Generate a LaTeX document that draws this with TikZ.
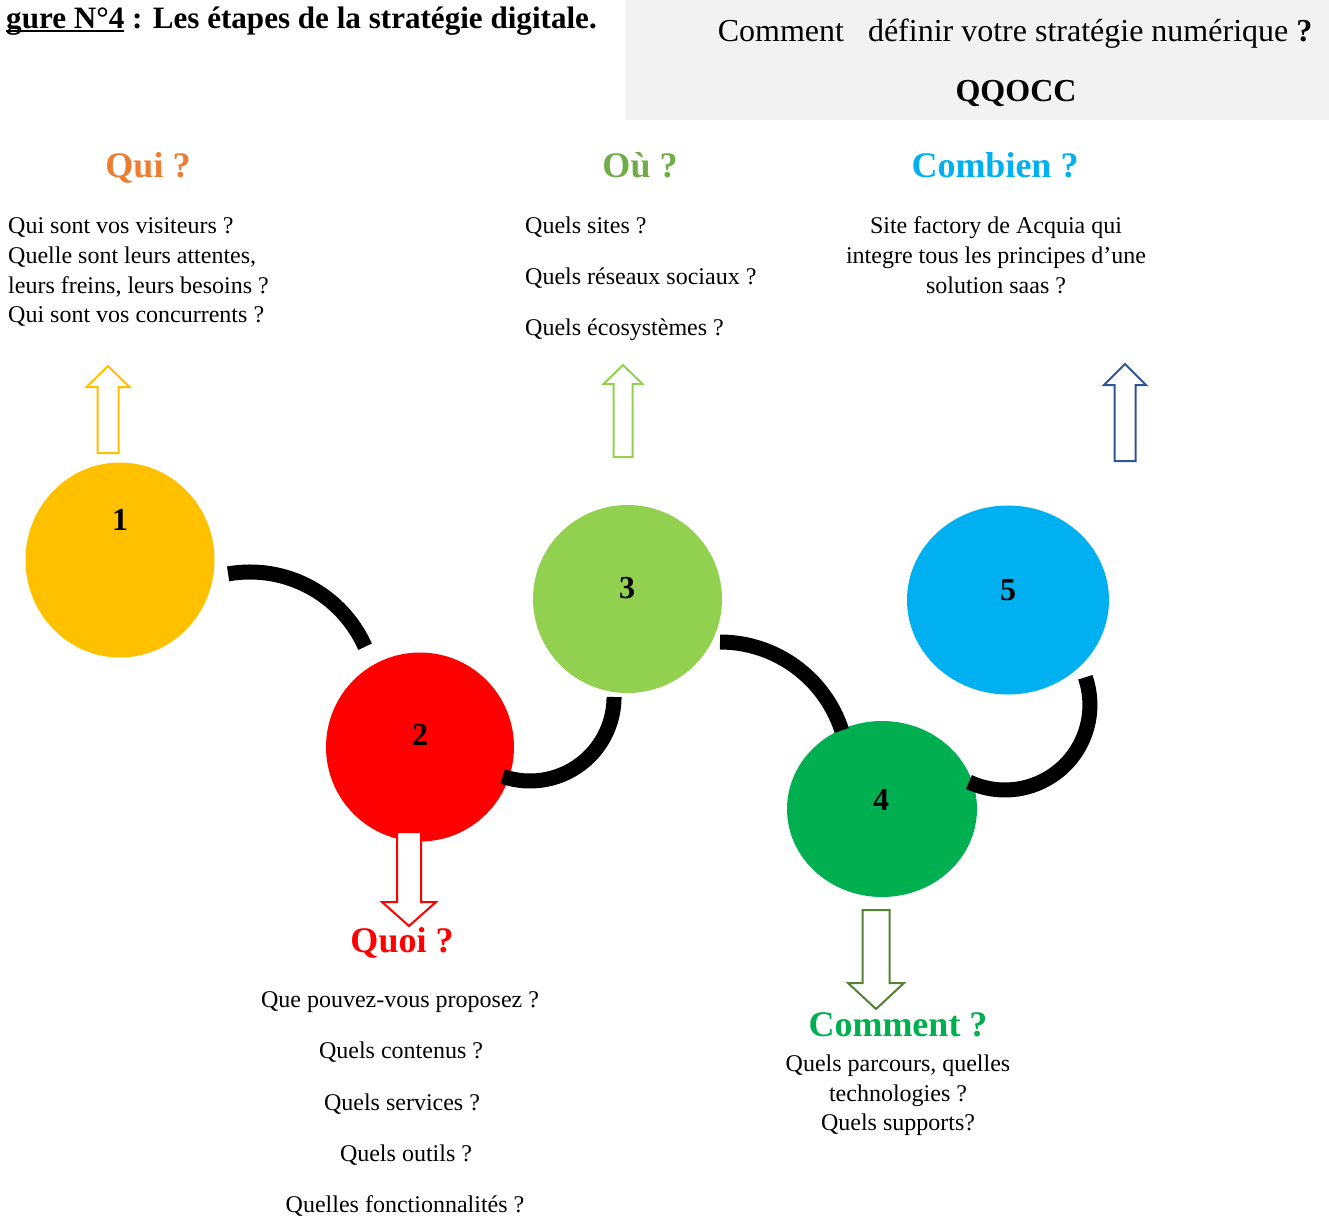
\documentclass[tikz,border=0pt]{standalone}
\usepackage{fontspec}
\setmainfont{Liberation Serif}
\usetikzlibrary{shapes.geometric,calc}

\definecolor{cYellow}{HTML}{FFC000}
\definecolor{cRed}{HTML}{FF0000}
\definecolor{cLime}{HTML}{92D050}
\definecolor{cGreen}{HTML}{00B050}
\definecolor{cCyan}{HTML}{00B0F0}
\definecolor{cOrange}{HTML}{ED7D31}
\definecolor{cOlive}{HTML}{70AD47}
\definecolor{cNavy}{HTML}{2F5597}
\definecolor{cForest}{HTML}{548235}
\definecolor{cPanel}{HTML}{F2F2F2}

% underline drawn as a rule below the boxed text
\newcommand{\figunderline}[1]{\setbox0\hbox{#1}\rlap{\rule[-4pt]{\wd0}{1.6pt}}\box0\relax}

\begin{document}
\begin{tikzpicture}[x=1pt,y=-1pt,
  stage/.style={ellipse, draw=none, inner sep=0pt, fill=#1},
  stagenum/.style={font=\fontsize{32}{32}\selectfont\bfseries, inner sep=0pt},
  heading/.style={font=\fontsize{36}{36}\selectfont\bfseries, text=#1, anchor=base, inner sep=0pt},
  body/.style={font=\fontsize{24}{24}\selectfont, anchor=base, inner sep=0pt},
  bodyl/.style={body, anchor=base west},
  link/.style={line width=15pt},
  hollow/.style={draw=#1, line width=2pt, fill=white, line join=miter},
  pics/blockarrow/.style args={#1/#2/#3/#4}{code={
    \path[pic actions] (0,0) -- (#1,#3) -- (#2,#3) -- (#2,#4) -- (-#2,#4)
      -- (-#2,#3) -- (-#1,#3) -- cycle;}},
]
\useasboundingbox (0,0) rectangle (1329,1216);
\clip (0,0) rectangle (1329,1216);

% title and header panel
\node[anchor=base east, font=\fontsize{31.1}{31.1}\selectfont\bfseries, inner sep=0pt]
  (title) at (597,28) {\figunderline{gure N°4} : Les étapes de la stratégie digitale.};
\node[fill=cPanel, minimum width=704pt, minimum height=120pt, anchor=north west,
  inner sep=0pt] (panel) at (625,0) {};
\node[anchor=base, font=\fontsize{32}{32}\selectfont, inner sep=0pt]
  (ask) at (1015,41) {Comment\ \ \ définir votre stratégie numérique \textbf{?}};
\node[anchor=base, font=\fontsize{32}{32}\selectfont\bfseries, inner sep=0pt]
  (qqocc) at (1016,101) {QQOCC};

% the five stages
\node[stage=cYellow, minimum width=189pt, minimum height=195pt] (s1) at (120,560) {};
\node[stage=cRed,    minimum width=188pt, minimum height=189pt] (s2) at (420,747) {};
\node[stage=cLime,   minimum width=189pt, minimum height=188pt] (s3) at (627.5,599) {};
\node[stage=cGreen,  minimum width=190pt, minimum height=176pt] (s4) at (882,809) {};
\node[stage=cCyan,   minimum width=202pt, minimum height=189pt] (s5) at (1008,600) {};

\node[stagenum] (n1) at (120,520) {1};
\node[stagenum] (n2) at (420,735) {2};
\node[stagenum] (n3) at (627,588) {3};
\node[stagenum] (n4) at (881,800) {4};
\node[stagenum] (n5) at (1008,590) {5};

% arcs linking the stages
\coordinate (k12) at ($(s1)+(108.1,13.9)$);
\coordinate (k23) at ($(s2)+(82.7,29.4)$);
\coordinate (k34) at ($(s3)+(92.5,43)$);
\coordinate (k45) at ($(s4)+(87,-27)$);
\draw[link] (k12) arc[start angle=-100, end angle=-24, radius=126];
\draw[link] (k23) arc[start angle=109, end angle=0, radius=84];
\draw[link] (k34) arc[start angle=-90, end angle=-18, radius=128];
\draw[link] (k45) arc[start angle=115, end angle=-19, radius=85];

% hollow block arrows
\pic[hollow=cYellow] (up1) at (108,366) {blockarrow={21.5/10.5/21/87}};
\pic[hollow=cLime] (up3) at (623,365) {blockarrow={19.5/9.5/19/92}};
\pic[hollow=cNavy] (up5) at (1125,364) {blockarrow={21/10.5/21/97}};
\pic[hollow=cRed, rotate=180] (dn2) at (409,926) {blockarrow={27/12/24/94}};
\pic[hollow=cForest, rotate=180] (dn4) at (876,1009) {blockarrow={28/13.5/26/99}};

% Qui ?
\node[heading=cOrange] (hqui) at (148,177) {Qui ?};
\node[bodyl] (qui1) at (8,233) {Qui sont vos visiteurs ?};
\node[bodyl] (qui2) at (8,263) {Quelle sont leurs attentes,};
\node[bodyl] (qui3) at (8,293) {leurs freins, leurs besoins ?};
\node[bodyl] (qui4) at (8,322) {Qui sont vos concurrents ?};

% Où ?
\node[heading=cOlive] (hou) at (640,177) {Où ?};
\node[bodyl] (ou1) at (525,233) {Quels sites ?};
\node[bodyl] (ou2) at (525,284) {Quels réseaux sociaux ?};
\node[bodyl] (ou3) at (525,335) {Quels écosystèmes ?};

% Combien ?
\node[heading=cCyan] (hcombien) at (995,177) {Combien ?};
\node[body] (cb1) at (996,233) {Site factory de Acquia qui};
\node[body] (cb2) at (996,263) {integre tous les principes d’une};
\node[body] (cb3) at (996,293) {solution saas ?};

% Quoi ?
\node[heading=cRed] (hquoi) at (402,952) {Quoi ?};
\node[body] (qo1) at (400,1007) {Que pouvez-vous proposez ?};
\node[body] (qo2) at (401,1058) {Quels contenus ?};
\node[body] (qo3) at (402,1110) {Quels services ?};
\node[body] (qo4) at (406,1161) {Quels outils ?};
\node[body] (qo5) at (405,1212) {Quelles fonctionnalités ?};

% Comment ?
\node[heading=cGreen] (hcomment) at (898,1036) {Comment ?};
\node[body] (cm1) at (898,1071) {Quels parcours, quelles};
\node[body] (cm2) at (898,1101) {technologies ?};
\node[body] (cm3) at (898,1130) {Quels supports?};
\end{tikzpicture}
\end{document}
